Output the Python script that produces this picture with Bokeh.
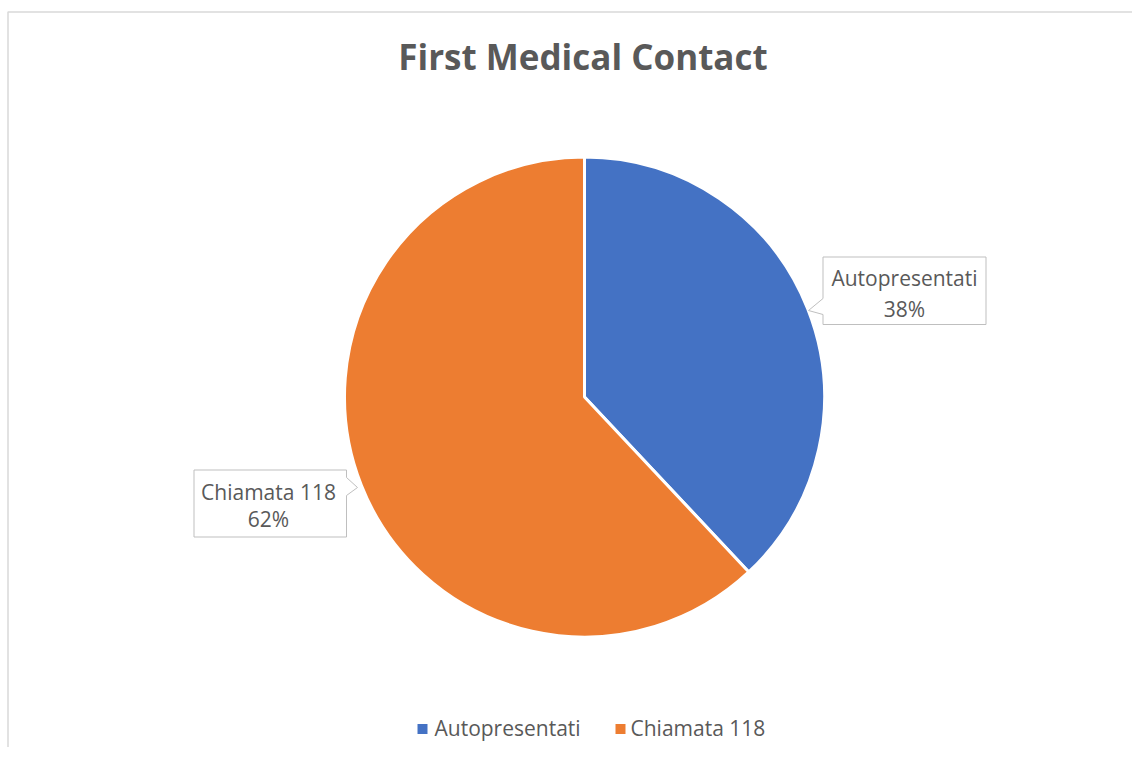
import math
from bokeh.plotting import figure
from bokeh.models import Range1d, ColumnDataSource
from bokeh.core.properties import value
from bokeh.embed import file_html
from bokeh.resources import INLINE

# ---- data ----
title_text = "First Medical Contact"
categories = ["Autopresentati", "Chiamata 118"]
values = [38, 62]
colors = ["#4472C4", "#ED7D31"]

# ---- layout (screen pixel helpers) ----
W, H = 1132, 747
PAGE_H = 763


def Y(sy):
    return PAGE_H - sy


FONT = value("Open Sans")
TXT = "#595959"

p = figure(width=W, height=H, output_backend="svg", toolbar_location=None,
           x_range=Range1d(0, W), y_range=Range1d(PAGE_H - H, PAGE_H),
           min_border=0)
p.axis.visible = False
p.grid.visible = False
p.outline_line_color = None
p.background_fill_color = "white"
p.border_fill_color = "white"

# chart area border (partially cropped like the reference)
p.quad(left=[7.5], right=[1400], top=[Y(11.5)], bottom=[-200],
       fill_color=None, line_color="#d9d9d9", line_width=1.5)

# title
p.text(x=[582.5], y=[Y(55.5)], text=[title_text], text_font=FONT,
       text_font_style="bold", text_font_size="35px", text_color=TXT,
       text_align="center", text_baseline="middle")

# pie
total = sum(values)
starts, ends = [], []
cum = 0.0
for v in values:
    starts.append(math.pi / 2 - 2 * math.pi * cum / total)
    cum += v
    ends.append(math.pi / 2 - 2 * math.pi * cum / total)
src = ColumnDataSource(dict(cat=categories, val=values, color=colors,
                            start=starts, end=ends))
cx, cy, r = 584, Y(396.5), 240
p.wedge(x=cx, y=cy, radius=r, start_angle="start", end_angle="end",
        direction="clock", fill_color="color", line_color="white",
        line_width=3, source=src)

# callouts
pcts = [f"{round(v / total * 100)}%" for v in values]
box_a = [(822.5, 256.5), (985.5, 256.5), (985.5, 324), (822.5, 324),
         (822.5, 314), (808, 310), (822.5, 298)]
box_c = [(193.5, 469.5), (346, 469.5), (346, 477), (357, 487), (346, 495),
         (346, 536.5), (193.5, 536.5)]
for box in (box_a, box_c):
    p.patch([pt[0] for pt in box], [Y(pt[1]) for pt in box],
            fill_color="white", line_color="#bfbfbf", line_width=1)

label_pos = [(904, 277, 308), (268, 491, 518)]
for (lx, m1, m2), cat, pc in zip(label_pos, categories, pcts):
    p.text(x=[lx], y=[Y(m1)], text=[cat], text_font=FONT,
           text_font_size="21px", text_color=TXT, text_align="center",
           text_baseline="middle")
    p.text(x=[lx], y=[Y(m2)], text=[pc], text_font=FONT,
           text_font_size="21px", text_color=TXT, text_align="center",
           text_baseline="middle")

# legend
leg_sq_x = [422, 620]
leg_tx_x = [434, 630]
p.scatter(x=leg_sq_x, y=[Y(728.5)] * 2, marker="square", size=10,
          fill_color=colors, line_color=None)
p.text(x=leg_tx_x, y=[Y(727.5)] * 2, text=categories, text_font=FONT,
       text_font_size="21px", text_color=TXT, text_align="left",
       text_baseline="middle")

open("out.html", "w").write(file_html(p, INLINE))
